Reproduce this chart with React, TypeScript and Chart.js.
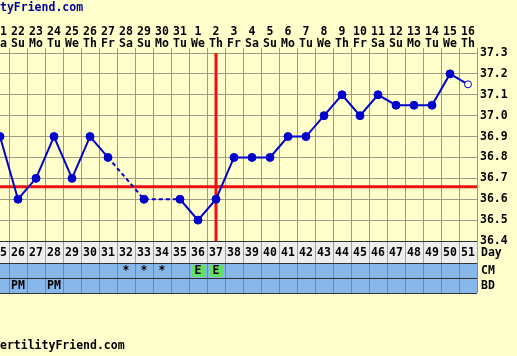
import React, { useEffect, useRef } from 'react';
import { Chart, registerables } from 'chart.js';

Chart.register(...registerables);

// ---- data ----
const days = [25, 26, 27, 28, 29, 30, 31, 32, 33, 34, 35, 36, 37, 38, 39, 40, 41, 42, 43, 44, 45, 46, 47, 48, 49, 50, 51];
const dates = ['21', '22', '23', '24', '25', '26', '27', '28', '29', '30', '31', '1', '2', '3', '4', '5', '6', '7', '8', '9', '10', '11', '12', '13', '14', '15', '16'];
const weekdays = ['Sa', 'Su', 'Mo', 'Tu', 'We', 'Th', 'Fr', 'Sa', 'Su', 'Mo', 'Tu', 'We', 'Th', 'Fr', 'Sa', 'Su', 'Mo', 'Tu', 'We', 'Th', 'Fr', 'Sa', 'Su', 'Mo', 'Tu', 'We', 'Th'];
const temps: (number | null)[] = [36.9, 36.6, 36.7, 36.9, 36.7, 36.9, 36.8, null, 36.6, null, 36.6, 36.5, 36.6, 36.8, 36.8, 36.8, 36.9, 36.9, 37.0, 37.1, 37.0, 37.1, 37.05, 37.05, 37.05, 37.2, 37.15];
const cmMarks = ['', '', '', '', '', '', '', '*', '*', '*', '', 'E', 'E', '', '', '', '', '', '', '', '', '', '', '', '', '', ''];
const bdMarks = ['', 'PM', '', 'PM', '', '', '', '', '', '', '', '', '', '', '', '', '', '', '', '', '', '', '', '', '', '', ''];
const coverline = 36.66;
const ovulationDay = 37;
const tempMin = 36.4;
const tempMax = 37.3;
const headerText = 'tyFriend.com';
const footerText = 'ertilityFriend.com';

// ---- style ----
const BG = '#FFFFCC';
const GRID = '#9C9C84';
const BLUE = '#0000CC';
const RED = '#EE1111';
const FONT_FAMILY = '"DejaVu Sans Mono", monospace';
const FONT_SIZE = 11.5;
const FONT = `bold ${FONT_SIZE}px ${FONT_FAMILY}`;

const tablePlugin = {
  id: 'ffTable',
  afterDraw(chart: any) {
    const { ctx, chartArea, scales } = chart;
    const x = scales.x;
    const rows = [
      { h: 22, label: 'Day', bg: '#EEEEEE', values: days.map(String) },
      { h: 15, label: 'CM', bg: '#88B8EA', values: cmMarks },
      { h: 15, label: 'BD', bg: '#88B8EA', values: bdMarks },
    ];
    const left = x.getPixelForValue(days[0] - 0.5);
    const right = x.getPixelForValue(days[days.length - 1] + 0.5);
    let top = chartArea.bottom;
    ctx.save();
    ctx.font = FONT;
    ctx.textBaseline = 'middle';
    rows.forEach((row, r) => {
      ctx.fillStyle = row.bg;
      ctx.fillRect(left, top, right - left, row.h);
      days.forEach((d, i) => {
        const l = x.getPixelForValue(d - 0.5);
        const rr = x.getPixelForValue(d + 0.5);
        const v = row.values[i];
        if (r === 1 && v === 'E') {
          ctx.fillStyle = '#66DD66';
          ctx.fillRect(l + 3, top + 2, rr - l - 5, row.h - 3);
        }
        ctx.strokeStyle = r === 0 ? '#A0A0A0' : '#6A8AAA';
        ctx.lineWidth = 1;
        ctx.beginPath();
        ctx.moveTo(Math.round(rr) + 0.5, top);
        ctx.lineTo(Math.round(rr) + 0.5, top + row.h);
        ctx.stroke();
        if (v) {
          ctx.fillStyle = '#000000';
          ctx.textAlign = 'center';
          ctx.fillText(v, (l + rr) / 2, top + row.h / 2 + 1);
        }
      });
      ctx.strokeStyle = '#333333';
      ctx.beginPath();
      ctx.moveTo(left, Math.round(top) + 0.5);
      ctx.lineTo(right, Math.round(top) + 0.5);
      ctx.stroke();
      ctx.fillStyle = '#000000';
      ctx.textAlign = 'left';
      ctx.fillText(row.label, right + 4, top + row.h / 2 + 1);
      top += row.h;
    });
    ctx.strokeStyle = '#333333';
    ctx.beginPath();
    ctx.moveTo(left, Math.round(top) + 0.5);
    ctx.lineTo(right, Math.round(top) + 0.5);
    ctx.stroke();

    ctx.textAlign = 'left';
    ctx.fillStyle = '#0000A0';
    ctx.fillText(headerText, 0, 8);
    ctx.fillStyle = '#000000';
    ctx.fillText(footerText, 0, 346);
    ctx.restore();
  },
};

export default function App() {
  const ref = useRef<HTMLCanvasElement | null>(null);
  useEffect(() => {
    if (!ref.current) return;
    const last = temps.length - 1;
    const chart = new Chart(ref.current, {
      type: 'line',
      data: {
        datasets: [
          {
            data: days.map((d, i) => ({ x: d, y: temps[i] })),
            borderColor: BLUE,
            borderWidth: 2,
            tension: 0,
            spanGaps: true,
            pointRadius: temps.map((_, i) => (i === last ? 3.5 : 4)),
            pointBackgroundColor: temps.map((_, i) => (i === last ? '#FFFFEE' : BLUE)),
            pointBorderColor: BLUE,
            pointBorderWidth: 1,
            segment: {
              borderDash: (c: any) => (c.p0.skip || c.p1.skip ? [4, 3] : undefined),
            },
            order: 0,
          } as any,
          {
            data: [
              { x: days[0] - 0.5, y: coverline },
              { x: days[days.length - 1] + 0.5, y: coverline },
            ],
            borderColor: RED,
            borderWidth: 3,
            pointRadius: 0,
            order: 1,
          },
          {
            data: [
              { x: ovulationDay, y: tempMin },
              { x: ovulationDay, y: tempMax },
            ],
            borderColor: RED,
            borderWidth: 3,
            pointRadius: 0,
            order: 1,
          },
        ],
      },
      options: {
        responsive: false,
        animation: false,
        devicePixelRatio: 1,
        layout: { autoPadding: false, padding: { top: 0, left: 0, right: 0, bottom: 115 } },
        plugins: { legend: { display: false }, tooltip: { enabled: false } },
        scales: {
          x: {
            type: 'linear',
            position: 'top',
            min: days[0],
            max: days[days.length - 1] + 0.5,
            afterBuildTicks: (s: any) => {
              s.ticks = days.map((d) => ({ value: d }));
            },
            afterFit: (s: any) => {
              s.height = 53;
              s.paddingLeft = 0;
              s.paddingRight = 0;
            },
            grid: { color: GRID, offset: true, tickLength: 5, drawTicks: true },
            border: { color: GRID },
            ticks: {
              autoSkip: false,
              maxRotation: 0,
              minRotation: 0,
              padding: -2,
              color: '#000000',
              font: { family: FONT_FAMILY, size: FONT_SIZE, weight: 'bold', lineHeight: 12 / FONT_SIZE },
              callback: (v: any) => {
                const i = days.indexOf(Number(v));
                return i >= 0 ? [dates[i], weekdays[i]] : '';
              },
            },
          } as any,
          y: {
            type: 'linear',
            position: 'right',
            min: tempMin,
            max: tempMax,
            afterFit: (s: any) => {
              s.width = 40;
              s.paddingTop = 0;
              s.paddingBottom = 0;
            },
            grid: { color: GRID, drawTicks: false },
            border: { color: GRID },
            ticks: {
              stepSize: 0.1,
              autoSkip: false,
              padding: 3,
              color: '#000000',
              font: { family: FONT_FAMILY, size: FONT_SIZE, weight: 'bold' },
              callback: (v: any) => Number(v).toFixed(1),
            },
          } as any,
        },
      },
      plugins: [tablePlugin],
    });
    return () => chart.destroy();
  }, []);
  return (
    <div style={{ position: 'fixed', left: 0, top: 0, width: 517, height: 356, background: BG }}>
      <canvas ref={ref} width={517} height={356} style={{ display: 'block' }} />
    </div>
  );
}
